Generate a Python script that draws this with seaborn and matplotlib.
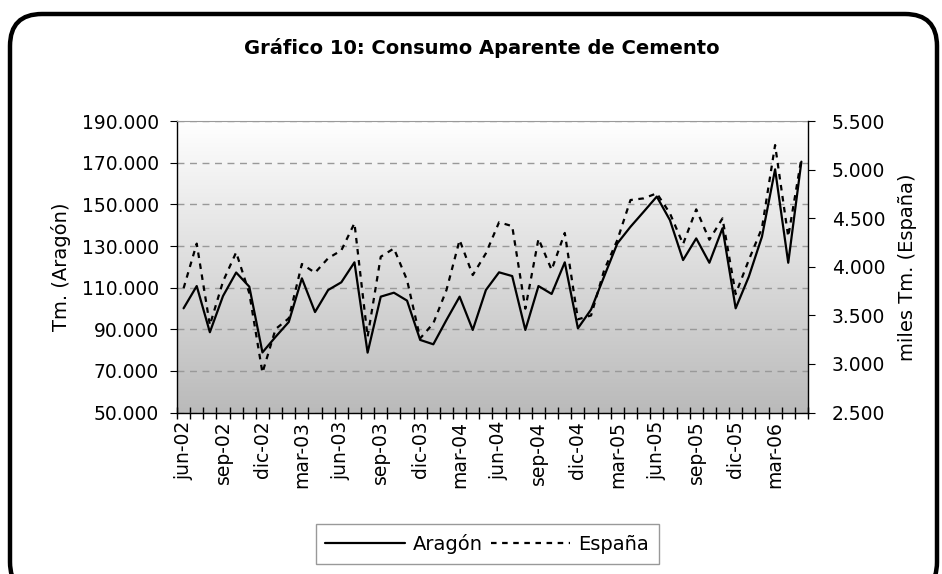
import numpy as np
import pandas as pd
import seaborn as sns
import matplotlib.pyplot as plt
from matplotlib.colors import LinearSegmentedColormap
from matplotlib.patches import FancyBboxPatch
from matplotlib.transforms import IdentityTransform
from matplotlib.ticker import FuncFormatter

# meses jun-02 ... may-06
meses = ["ene", "feb", "mar", "abr", "may", "jun", "jul", "ago", "sep", "oct", "nov", "dic"]
fechas = [f"{meses[(5 + i) % 12]}-{2 + (5 + i) // 12:02d}" for i in range(48)]

# Tm. (Aragón)
aragon = [100100, 110800, 88600, 106000, 117300, 110500, 78900, 86400, 93500, 114500,
          98300, 108900, 112600, 122200, 78800, 105700, 107600, 103800, 84900, 82800,
          94500, 105700, 89700, 108900, 117400, 115600, 89700, 110800, 107000, 122200,
          90500, 99500, 115500, 131300, 139300, 146500, 153800, 142500, 123300, 133700,
          122000, 138600, 100100, 115300, 134500, 166900, 122000, 170600]

# miles Tm. (España)
espana = [3780, 4240, 3400, 3850, 4150, 3730, 2910, 3360, 3470, 4030,
          3940, 4090, 4170, 4450, 3280, 4105, 4190, 3865, 3264, 3419,
          3762, 4277, 3916, 4140, 4460, 4420, 3570, 4290, 3970, 4350,
          3460, 3500, 3968, 4277, 4689, 4706, 4758, 4552, 4235, 4593,
          4280, 4500, 3720, 4071, 4400, 5255, 4311, 5118]

df = pd.DataFrame({"mes": range(len(fechas)), "Aragón": aragon, "España": espana})

sns.set_style("white")
plt.rcParams["font.family"] = ["DejaVu Sans"]
plt.rcParams["text.color"] = "black"
plt.rcParams["axes.labelcolor"] = "black"
plt.rcParams["xtick.color"] = "black"
plt.rcParams["ytick.color"] = "black"

fig = plt.figure(figsize=(9.42, 5.74), dpi=100)
ax = fig.add_axes([0.1879, 0.2813, 0.6698, 0.5074])
ax2 = ax.twinx()

# fondo degradado
grad = np.linspace(1, 0, 256).reshape(-1, 1)
cmap = LinearSegmentedColormap.from_list("fondo", ["#bababa", "#ffffff"])
ax.imshow(grad, cmap=cmap, extent=[0, 1, 0, 1], transform=ax.transAxes,
          aspect="auto", zorder=0)

sns.lineplot(data=df, x="mes", y="Aragón", ax=ax, color="black", lw=1.6)
sns.lineplot(data=df, x="mes", y="España", ax=ax2, color="black", lw=1.6,
             linestyle=(0, (2.5, 2.5)))

ax.set_xlim(-0.5, 47.5)
ax.set_ylim(50000, 190000)
ax2.set_ylim(2500, 5500)
ax.set_yticks(np.arange(50000, 190001, 20000))
ax2.set_yticks(np.arange(2500, 5501, 500))
fmt = FuncFormatter(lambda v, p: f"{v:,.0f}".replace(",", "."))
ax.yaxis.set_major_formatter(fmt)
ax2.yaxis.set_major_formatter(fmt)

ax.set_xticks(np.arange(-0.5, 48, 1))
ax.set_xticklabels([])
ax.set_xticks(np.arange(0, 48, 3), minor=True)
ax.set_xticklabels(fechas[::3], minor=True, rotation=90, fontsize=13.5)
ax.tick_params(axis="x", which="major", bottom=True, direction="inout", length=8, width=1)
ax.tick_params(axis="x", which="minor", bottom=True, length=0, pad=6)
ax.tick_params(axis="y", left=True, direction="out", length=5, labelsize=13.5, pad=8)
ax2.tick_params(axis="y", right=True, direction="out", length=5, labelsize=13.5, pad=12)

ax.yaxis.grid(True, linestyle=(0, (5, 4)), color="#999999", lw=1)
ax.set_axisbelow(True)

ax.set_xlabel("")
ax.set_ylabel("Tm. (Aragón)", fontsize=14)
ax2.set_ylabel("miles Tm. (España)", fontsize=14)
ax.yaxis.set_label_coords(-0.168, 0.5)
ax2.yaxis.set_label_coords(1.142, 0.5)

for s in ["left", "bottom"]:
    ax.spines[s].set_color("black")
    ax.spines[s].set_linewidth(1)
ax.spines["top"].set_color("#999999")
ax.spines["right"].set_visible(False)
for s in ["left", "bottom", "top"]:
    ax2.spines[s].set_visible(False)
ax2.spines["right"].set_color("black")
ax2.spines["right"].set_linewidth(1)

fig.text(0.512, 0.916, "Gráfico 10: Consumo Aparente de Cemento",
         ha="center", va="center", fontsize=14, fontweight="bold")

h1 = ax.get_lines()[0]
h2 = ax2.get_lines()[0]
leg = fig.legend([h1, h2], ["Aragón", "España"], loc="center",
                 bbox_to_anchor=(0.517, 0.052), ncol=2, fontsize=14,
                 frameon=True, fancybox=False, edgecolor="#808080",
                 handlelength=4.1, columnspacing=0.4, handletextpad=0.4,
                 borderpad=0.5)
leg.get_frame().set_linewidth(1)

borde = FancyBboxPatch((10, -20), 927, 580, boxstyle="round,pad=0,rounding_size=32",
                       transform=IdentityTransform(), fill=False,
                       edgecolor="black", lw=3.2)
fig.patches.append(borde)

fig.savefig("out.png", dpi=100)
